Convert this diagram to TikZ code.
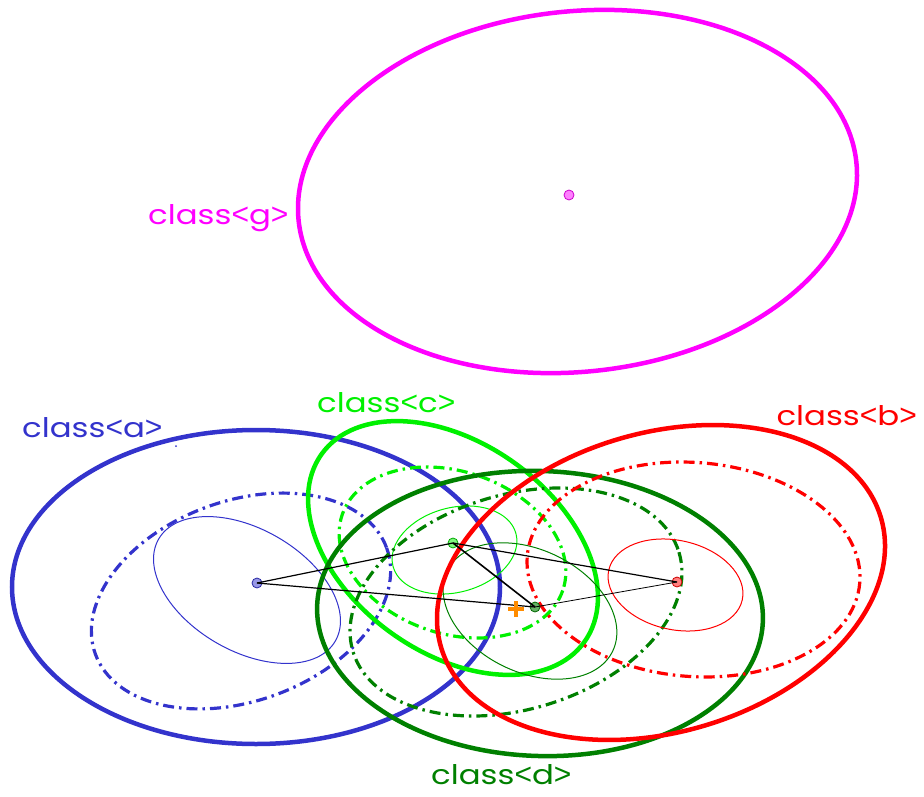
\documentclass[tikz,border=0pt]{standalone}
\usepackage{fontspec}
\setmainfont{Poppins}[FakeStretch=1.2]
\newfontfamily\symfnt{Liberation Sans}
\definecolor{cblue}{RGB}{51,51,204}
\definecolor{cgreen}{RGB}{0,240,0}
\definecolor{cdgreen}{RGB}{0,128,0}
\definecolor{cred}{RGB}{255,0,0}
\definecolor{cmag}{RGB}{255,0,255}
\definecolor{corange}{RGB}{255,140,0}
\newcommand{\lt}{{\symfnt\fontsize{30}{30}\selectfont<}}
\newcommand{\gt}{{\symfnt\fontsize{30}{30}\selectfont>}}
\begin{document}
\begin{tikzpicture}[x=1pt,y=-1pt,
  thick ell/.style={line width=4.5pt},
  dd ell/.style={line width=3.2pt,dash pattern=on 11pt off 5pt on 2.5pt off 5pt},
  thin ell/.style={line width=1pt},
  lbl/.style={anchor=base west,inner sep=0pt,font=\fontsize{27}{30}\selectfont},
  ctr/.style={circle,inner sep=0pt,minimum size=10pt,line width=0.8pt},
  link/.style={line width=1.2pt,black}]
\useasboundingbox (0,0) rectangle (924,797);
% class g
\draw[cmag,thick ell,rotate around={6:(577.5,191.5)}] (577.5,191.5) ellipse [x radius=280.4,y radius=180.2];
\node[ctr,draw=cmag!80!black,fill=cmag!50] (g) at (569,195) {};
\node[lbl,text=cmag] (lg) at (148,224) {class\lt g\gt};
% class a
\draw[cblue,thick ell] (256,587) ellipse [x radius=244,y radius=157];
\draw[cblue,dd ell,rotate around={20:(241,601)}] (241,601) ellipse [x radius=155,y radius=100];
\draw[cblue,thin ell,rotate around={-30:(247,590)}] (247,590) ellipse [x radius=102,y radius=61];
\node[lbl,text=cblue] (la) at (22,437) {class\lt a\gt};
\fill[cblue] (176,446) circle (1pt);
% class c
\draw[cgreen,thick ell,rotate around={-35.5:(453,548)}] (453,548) ellipse [x radius=161.5,y radius=105];
\draw[cgreen,dd ell,rotate around={-19:(452.5,552.5)}] (452.5,552.5) ellipse [x radius=116.6,y radius=81];
\draw[cgreen,thin ell,rotate around={15:(454.5,550)}] (454.5,550) ellipse [x radius=63.6,y radius=42.3];
\node[lbl,text=cgreen] (lc) at (317,412) {class\lt c\gt};
% class d
\draw[cdgreen,thick ell,rotate around={-2:(540,613.5)}] (540,613.5) ellipse [x radius=223,y radius=142.5];
\draw[cdgreen,dd ell,rotate around={17:(516,602)}] (516,602) ellipse [x radius=170.4,y radius=107.2];
\draw[cdgreen,thin ell,rotate around={-26:(530,611)}] (530,611) ellipse [x radius=91.9,y radius=61.2];
\node[lbl,text=cdgreen] (ld) at (431,784) {class\lt d\gt};
% class b
\draw[cred,thick ell,rotate around={16.4:(661,582.5)}] (661,582.5) ellipse [x radius=229.3,y radius=149.6];
\draw[cred,dd ell,rotate around={-4.5:(693.5,569.5)}] (693.5,569.5) ellipse [x radius=166.8,y radius=107];
\draw[cred,thin ell,rotate around={-12.6:(675.5,585)}] (675.5,585) ellipse [x radius=68.4,y radius=44.6];
\node[lbl,text=cred,anchor=base east] (lb) at (917,425) {class\lt b\gt};
% centres
\node[ctr,draw=cblue!80!black,fill=cblue!50] (a) at (257,583) {};
\node[ctr,draw=cgreen!70!black,fill=cgreen!50] (c) at (453,543) {};
\node[ctr,draw=cdgreen!80!black,fill=cdgreen!60] (d) at (535,607) {};
\node[ctr,draw=cred!80!black,fill=cred!50] (b) at (677,582) {};
\draw[link] (a.center) -- (c.center);
\draw[link] (a.center) -- (d.center);
\draw[link] (c.center) -- (b.center);
\draw[link,line width=1.6pt] (c.center) -- (d.center);
\draw[link,line width=0.8pt] (d.center) -- (b.center);
% mean
\draw[corange,line width=4pt] (508,609) -- (524,609) (516,601) -- (516,617);
\end{tikzpicture}
\end{document}
